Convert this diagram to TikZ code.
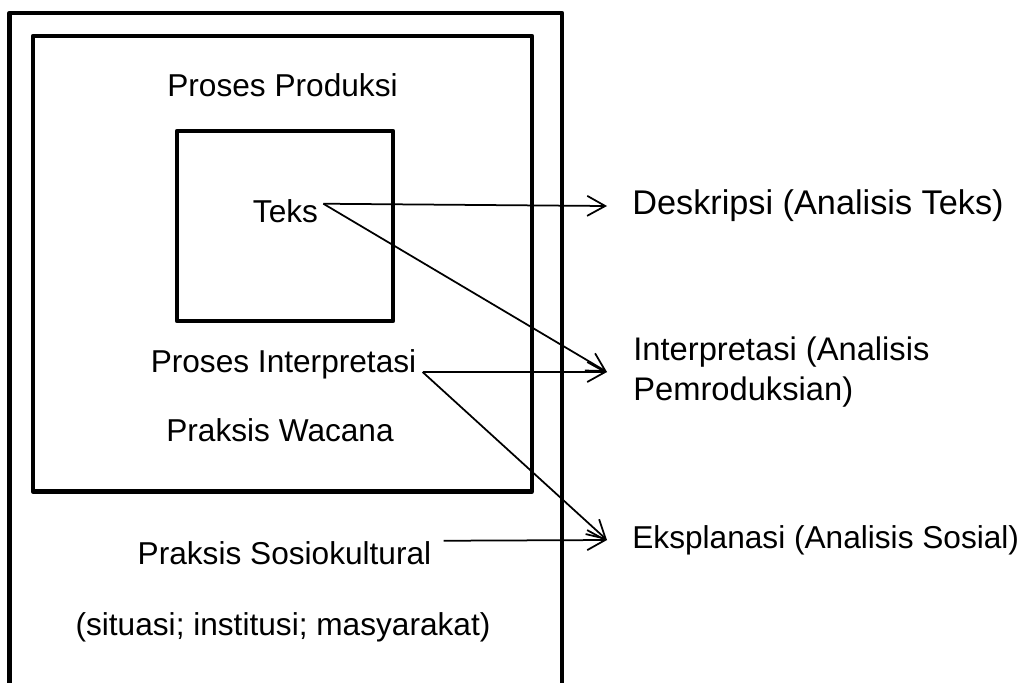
\documentclass[tikz,border=0pt]{standalone}
\usepackage{fontspec}
\setmainfont{Liberation Sans}
\usetikzlibrary{arrows.meta}

\begin{document}
\begin{tikzpicture}[
    every node/.style={font=\fontsize{18}{21.5}\selectfont},
    frame/.style={draw, line width=0.085cm, line join=round},
    link/.style={line width=0.035cm},
    arrow/.style={link, -{Straight Barb[length=0.36cm, width=0.4cm]}}]
    \useasboundingbox (0, 0) rectangle (20.56, -13.64);
    \draw[frame] (0.19, -14) -- (0.19, -0.26) -- (11.24, -0.26) -- (11.24, -14);
    \draw[frame] (0.66, -0.72) rectangle (10.64, -9.83);
    \draw[frame] (3.54, -2.62) rectangle (7.86, -6.42);
    \node[anchor=base] (produksi) at (5.65, -1.92) {Proses Produksi};
    \node[anchor=base, inner xsep=0.1cm, inner ysep=0pt]
        (teks) at (5.71, -4.44) {Teks};
    \node[anchor=base, inner xsep=0.12cm] (interp) at (5.67, -7.44)
        {Proses Interpretasi};
    \node[anchor=base] (wacana) at (5.6, -8.82) {Praksis Wacana};
    \node[anchor=base, inner xsep=0.24cm, inner ysep=0pt]
        (sosio) at (5.69, -11.28) {Praksis Sosiokultural};
    \node[anchor=base] (situasi) at (5.66, -12.7)
        {(situasi; institusi; masyarakat)};
    \node[anchor=west, inner xsep=0.5cm, font=\fontsize{19.5}{23}\selectfont]
        (deskripsi) at (12.14, -4.12) {Deskripsi (Analisis Teks)};
    \node[anchor=west, inner xsep=0.52cm, align=left,
        font=\fontsize{18.6}{22.5}\selectfont] (interpretasi)
        at (12.14, -7.44) {Interpretasi (Analisis\\Pemroduksian)};
    \node[anchor=west, inner xsep=0.5cm] (eksplanasi) at (12.14, -10.8)
        {Eksplanasi (Analisis Sosial)};
    \draw[arrow] ([yshift=-0.1cm]teks.north east) -- (deskripsi.west);
    \draw[arrow] ([yshift=-0.1cm]teks.north east) -- (interpretasi.west);
    \draw[arrow] (interp.base east) -- (interpretasi.west);
    \draw[arrow] (interp.base east) -- (eksplanasi.west);
    \draw[arrow] (sosio.north east) -- (eksplanasi.west);
\end{tikzpicture}
\end{document}
